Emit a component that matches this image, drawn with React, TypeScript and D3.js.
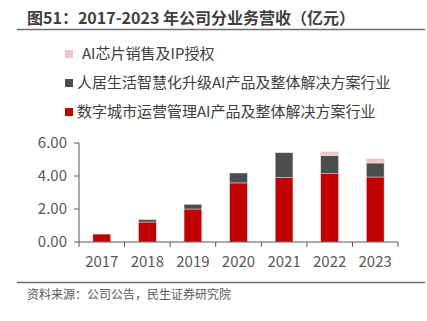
import React from "react";
import * as d3 from "d3";

const years = ["2017", "2018", "2019", "2020", "2021", "2022", "2023"];
const cityAI = [0.48, 1.21, 2.0, 3.58, 3.9, 4.14, 3.94];
const homeAI = [0, 0.14, 0.28, 0.6, 1.51, 1.09, 0.85];
const chipIP = [0, 0, 0, 0, 0, 0.24, 0.26];
const yTicks = [0, 2, 4, 6];

const seriesNames = [
  "数字城市运营管理AI产品及整体解决方案行业",
  "人居生活智慧化升级AI产品及整体解决方案行业",
  "AI芯片销售及IP授权",
];
const colors = ["#C00000", "#4D4D4F", "#F0C6C6"];

const W = 427;
const H = 321;
const FONT = "'Noto Sans CJK SC', 'Noto Sans', sans-serif";

export default function App() {
  const x = d3.scaleBand<string>().domain(years).range([79, 398]).padding(0);
  const y = d3.scaleLinear().domain([0, 6]).range([242, 143]);
  const rows = years.map((yr, i) => ({ yr, city: cityAI[i], home: homeAI[i], chip: chipIP[i] }));
  const stack = d3.stack<any>().keys(["city", "home", "chip"])(rows);
  const bw = x.bandwidth() * 0.39;

  const legendOrder = [2, 1, 0];
  const legendY = [54, 83, 112];

  return (
    <svg
      width={W}
      height={H}
      style={{ position: "absolute", left: 0, top: 0, background: "#fff" }}
      fontFamily={FONT}
    >
      <text x={27} y={24} fontSize={16} fontWeight="bold" fill="#404040">
        图51：2017-2023 年公司分业务营收（亿元）
      </text>
      <line x1={17} x2={425} y1={29.5} y2={29.5} stroke="#6e6e6e" strokeWidth={1.5} />

      {legendOrder.map((si, k) => (
        <g key={si}>
          <rect x={65} y={legendY[k] - 4} width={8} height={8} fill={colors[si]} />
          <text
            x={si === 2 ? 82 : 77}
            y={legendY[k]}
            dy="0.35em"
            fontSize={15}
            fill="#404040"
          >
            {seriesNames[si]}
          </text>
        </g>
      ))}

      {stack.map((s, si) =>
        s.map((d, i) => {
          const h = y(d[0]) - y(d[1]);
          if (h <= 0) return null;
          return (
            <rect
              key={`${si}-${i}`}
              x={(x(years[i]) as number) + (x.bandwidth() - bw) / 2}
              y={y(d[1])}
              width={bw}
              height={h}
              fill={colors[si]}
              stroke="#e6e6e6"
              strokeWidth={0.5}
            />
          );
        })
      )}

      <line x1={79} x2={79} y1={143} y2={242} stroke="#595959" strokeWidth={1} />
      <line x1={79} x2={398} y1={242} y2={242} stroke="#595959" strokeWidth={1} />
      {yTicks.map((t) => (
        <g key={t}>
          <line x1={74} x2={79} y1={y(t)} y2={y(t)} stroke="#595959" />
          <text x={67} y={y(t)} dy="0.35em" textAnchor="end" fontSize={15} fill="#595959">
            {t.toFixed(2)}
          </text>
        </g>
      ))}
      {[...years.map((yr) => x(yr) as number), 398].map((px, i) => (
        <line key={i} x1={px} x2={px} y1={242} y2={247} stroke="#595959" />
      ))}
      {years.map((yr) => (
        <text
          key={yr}
          x={(x(yr) as number) + x.bandwidth() / 2}
          y={267}
          textAnchor="middle"
          fontSize={15}
          fill="#595959"
        >
          {yr}
        </text>
      ))}

      <line x1={17} x2={425} y1={282.5} y2={282.5} stroke="#6e6e6e" strokeWidth={1.5} />
      <text x={27} y={295} dy="0.35em" fontSize={12} fill="#595959">
        资料来源：公司公告，民生证券研究院
      </text>
    </svg>
  );
}
